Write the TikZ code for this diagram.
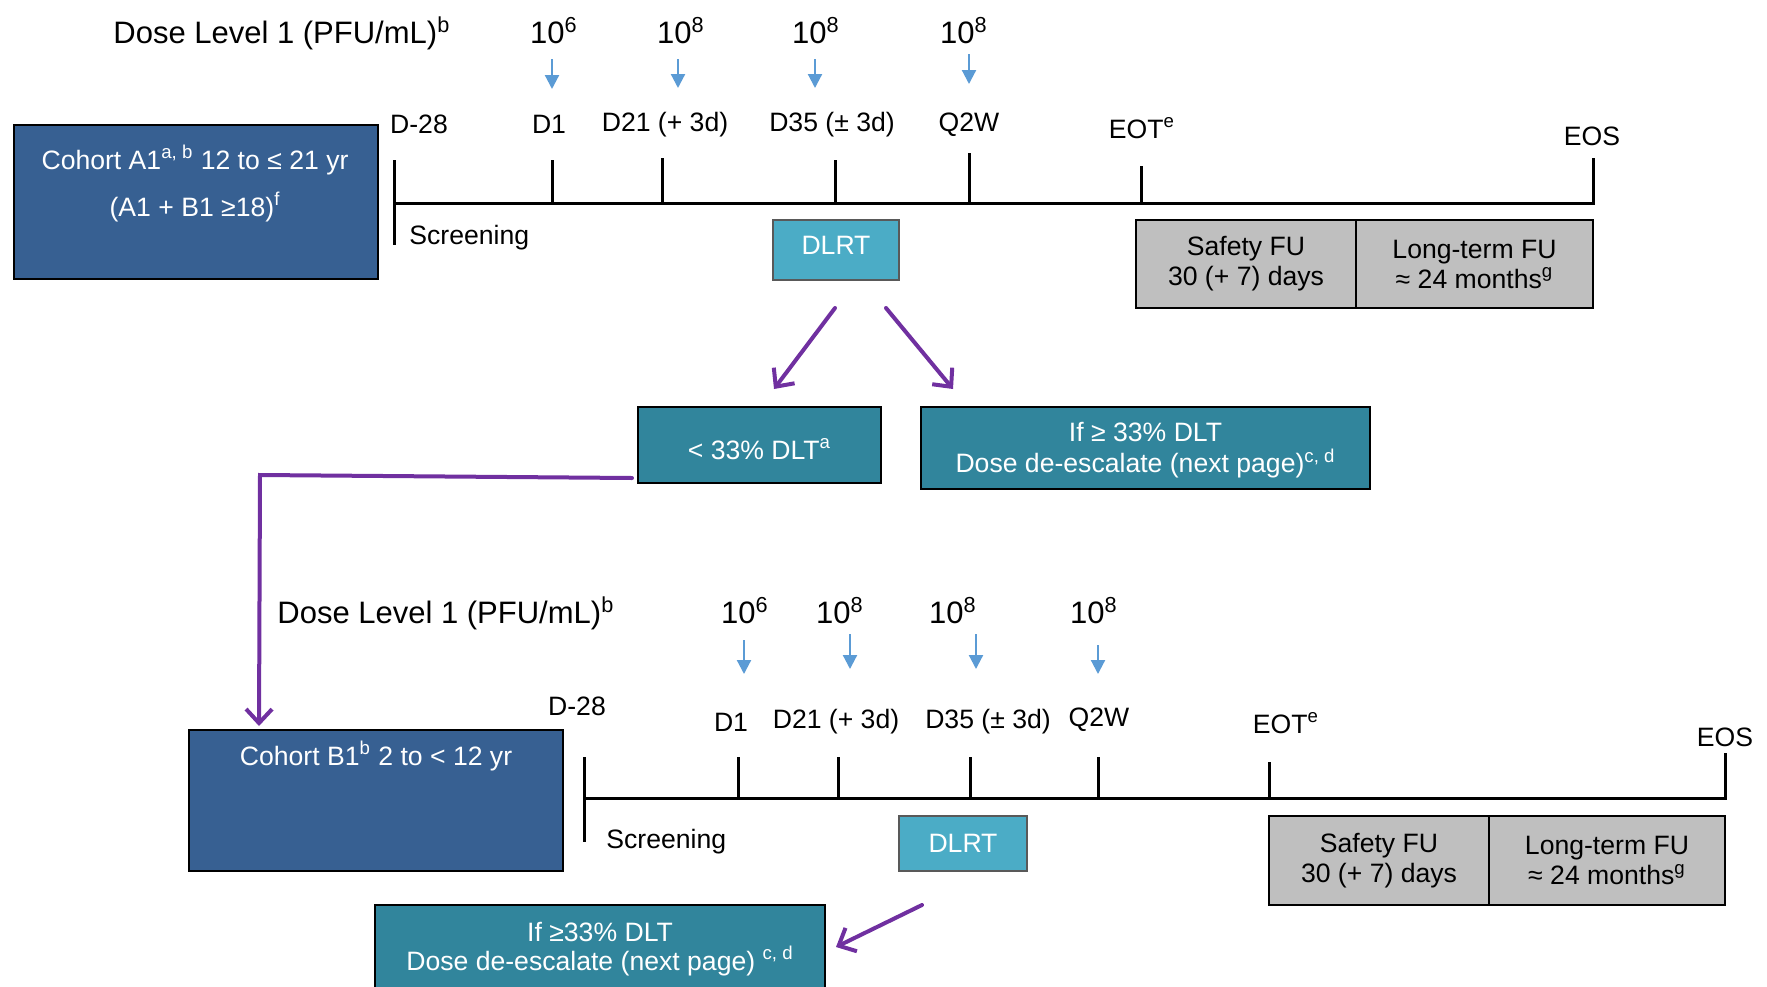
\documentclass[tikz,border=0pt]{standalone}
\usepackage{fontspec}
\setmainfont{Liberation Sans}
\usetikzlibrary{arrows.meta,calc}
\definecolor{cohortblue}{HTML}{376092}
\definecolor{dlrtcol}{HTML}{4BACC6}
\definecolor{dltcol}{HTML}{31859C}
\definecolor{fugray}{HTML}{BFBFBF}
\definecolor{purp}{HTML}{7030A0}
\definecolor{doseblue}{HTML}{5B9BD5}
\begin{document}
\begin{tikzpicture}[x=0.5pt,y=-0.5pt,
  txt/.style={font=\fontsize{13.3}{15}\selectfont, inner sep=0pt},
  dose/.style={font=\fontsize{15.5}{18}\selectfont, inner sep=0pt, anchor=base},
  cohortbox/.style={draw=black, line width=1pt, fill=cohortblue, inner sep=0pt},
  dlrtbox/.style={draw=black!65, line width=0.6pt, fill=dlrtcol, text=white, font=\fontsize{13.3}{15}\selectfont, inner sep=0pt},
  dltbox/.style={draw=black, line width=1pt, fill=dltcol, text=white, align=center, font=\fontsize{13.3}{15.5}\selectfont, inner sep=0pt},
  fubox/.style={draw=black, line width=1pt, fill=fugray, align=center, font=\fontsize{13.3}{15}\selectfont, inner sep=0pt},
  tl/.style={line width=1.5pt},
  tick/.style={line width=1.5pt},
  dosearrow/.style={doseblue, line width=1.1pt, -{Triangle[length=7pt,width=7pt]}},
  parrow/.style={purp, line width=2pt, line cap=round, -{Straight Barb[length=7pt,width=13pt,line width=2pt]}},
]
\clip (0,0) rectangle (1767,986);

% ---------------- top section ----------------
\node[dose, anchor=base west] (dl1) at (113,43) {Dose Level 1 (PFU/mL)\textsuperscript{b}};
\node[dose] (v1) at (554,43) {10\textsuperscript{6}};
\node[dose] (v2) at (681,43) {10\textsuperscript{8}};
\node[dose] (v3) at (816,43) {10\textsuperscript{8}};
\node[dose] (v4) at (964,43) {10\textsuperscript{8}};
\foreach \i/\x/\a/\b in {1/552/59/89, 2/678/59/88, 3/815/59/88, 4/969/54/84}{
  \coordinate (ua\i) at (\x,\a); \coordinate (ub\i) at (\x,\b);
  \draw[dosearrow] (ua\i) -- (ub\i);
}

\node[txt] (la1) at (419,124) {D-28};
\node[txt] (la2) at (549,124) {D1};
\node[txt] (la3) at (665,125) {D21 (+ 3d)};
\node[txt] (la4) at (832,125) {D35 (± 3d)};
\node[txt] (la5) at (969,125) {Q2W};
\node[txt] (la6) at (1142,128) {EOT\textsuperscript{e}};
\node[txt] (la7) at (1592,136) {EOS};

\coordinate (ta0) at (394,203);
\coordinate (taend) at (1593,203);
\draw[tl] (394,160) -- (394,245);
\draw[tl] (ta0) -- (taend) -- (1593,158);
\foreach \x/\y in {552/160, 662/158, 835/160, 969/153, 1141/166}
  \draw[tick] (\x,\y) -- (\x,203);
\node[txt, anchor=west] (scra) at (409,238) {Screening};

\node[cohortbox, minimum width=182pt, minimum height=77pt] (a1) at (195.5,202) {};
\node[txt, text=white, align=center, font=\fontsize{13.3}{23.5}\selectfont] (a1t) at (195,183.5)
  {Cohort A1\textsuperscript{a, b} 12 to ≤ 21 yr\\(A1 + B1 ≥18)\textsuperscript{f}};

\node[dlrtbox, minimum width=63pt, minimum height=30pt, text depth=4.5pt] (dlrta) at (836,250) {DLRT};
\node[fubox, minimum width=110pt, minimum height=44pt] (sfa) at (1246,264) {Safety FU\\30 (+ 7) days};
\node[fubox, minimum width=118.5pt, minimum height=44pt] (lfa) at (1474.5,264) {Long-term FU\\≈ 24 months\textsuperscript{g}};

\node[dltbox, minimum width=121.5pt, minimum height=38pt, text height=14pt, text depth=0pt] (dlt1) at (759.5,445) {< 33\% DLT\textsuperscript{a}};
\node[dltbox, minimum width=224.5pt, minimum height=41pt] (dlt2) at (1145.5,448) {};
\node[txt, text=white, align=center, font=\fontsize{13.3}{15.5}\selectfont] (dlt2t) at (1145.5,450.5)
  {If ≥ 33\% DLT\\Dose de-escalate (next page)\textsuperscript{c, d}};

\coordinate (pa1s) at (835,308); \coordinate (pa1e) at (774,389);
\coordinate (pa2s) at (886,308); \coordinate (pa2e) at (953,389);
\draw[parrow] (pa1s) -- (pa1e);
\draw[parrow] (pa2s) -- (pa2e);

% ---------------- bottom section ----------------
\node[dose, anchor=base west] (dl2) at (277,623) {Dose Level 1 (PFU/mL)\textsuperscript{b}};
\node[dose] (w1) at (745,623) {10\textsuperscript{6}};
\node[dose] (w2) at (840,623) {10\textsuperscript{8}};
\node[dose] (w3) at (953,623) {10\textsuperscript{8}};
\node[dose] (w4) at (1094,623) {10\textsuperscript{8}};
\foreach \i/\x/\a/\b in {1/744/640/674, 2/850/634/669, 3/976/634/669, 4/1098/645/674}{
  \coordinate (va\i) at (\x,\a); \coordinate (vb\i) at (\x,\b);
  \draw[dosearrow] (va\i) -- (vb\i);
}

\node[txt] (lb1) at (577,706) {D-28};
\node[txt] (lb2) at (731,722) {D1};
\node[txt] (lb3) at (836,722) {D21 (+ 3d)};
\node[txt] (lb4) at (988,722) {D35 (± 3d)};
\node[txt] (lb5) at (1099,720) {Q2W};
\node[txt] (lb6) at (1286,723) {EOT\textsuperscript{e}};
\node[txt] (lb7) at (1725,737) {EOS};

\coordinate (tb0) at (584,798);
\coordinate (tbend) at (1725,798);
\draw[tl] (584,757) -- (584,842);
\draw[tl] (tb0) -- (tbend) -- (1725,753);
\foreach \x/\y in {738/757, 838/757, 970/757, 1098/757, 1269/762}
  \draw[tick] (\x,\y) -- (\x,798);
\node[txt, anchor=west] (scrb) at (606,842) {Screening};

\node[cohortbox, minimum width=187pt, minimum height=70.5pt] (b1) at (376,800.5) {};
\node[txt, text=white] (b1t) at (376,756) {Cohort B1\textsuperscript{b} 2 to < 12 yr};

\node[dlrtbox, minimum width=64pt, minimum height=27.5pt] (dlrtb) at (963,843.5) {DLRT};
\node[fubox, minimum width=110pt, minimum height=44.5pt] (sfb) at (1379,860.5) {Safety FU\\30 (+ 7) days};
\node[fubox, minimum width=118pt, minimum height=44.5pt] (lfb) at (1607,860.5) {Long-term FU\\≈ 24 months\textsuperscript{g}};

\node[dltbox, minimum width=225pt, minimum height=52.5pt] (dlt3) at (600,957.5) {};
\node[txt, text=white, align=center, font=\fontsize{13.3}{14.5}\selectfont] (dlt3t) at (600,949)
  {If ≥33\% DLT\\Dose de-escalate (next page) \textsuperscript{c, d}};

% purple connectors
\coordinate (pe1) at ($(dlt1.south west)+(-5,-6)$);
\coordinate (pe2) at (260,475);
\coordinate (pe3) at ($(b1.north west)+(71,-3)$);
\draw[parrow] (pe1) -- (pe2) -- (pe3);

\coordinate (pb1s) at (922,905); \coordinate (pb1e) at (836,947);
\draw[parrow] (pb1s) -- (pb1e);
\end{tikzpicture}
\end{document}
